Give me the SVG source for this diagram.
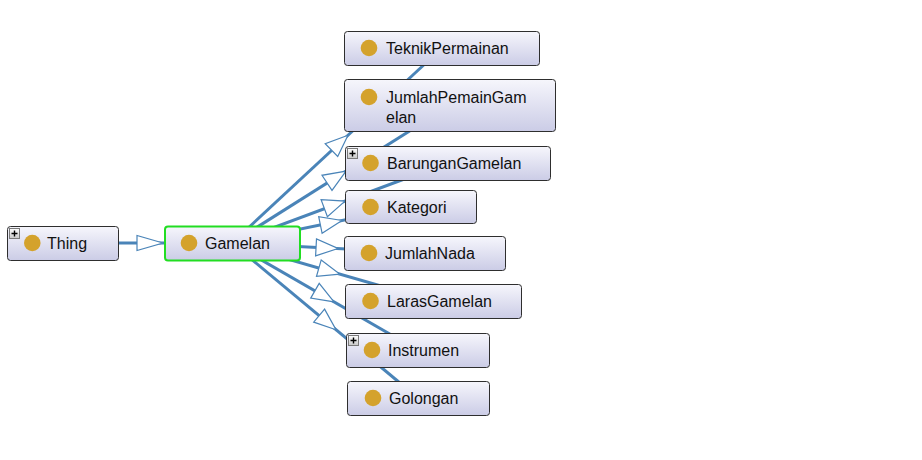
<svg xmlns="http://www.w3.org/2000/svg" width="922" height="460" viewBox="0 0 922 460">
<defs>
<linearGradient id="ng" x1="0" y1="0" x2="0" y2="1">
<stop offset="0" stop-color="#f6f6fc"/>
<stop offset="1" stop-color="#cbcce6"/>
</linearGradient>
<linearGradient id="pg" x1="0" y1="0" x2="0" y2="1">
<stop offset="0" stop-color="#ffffff"/>
<stop offset="1" stop-color="#c8c8c8"/>
</linearGradient>
<g id="plus">
<rect x="0.5" y="0.5" width="10" height="10" fill="url(#pg)" stroke="#7a7a7a" stroke-width="1"/>
<path d="M2.5 5.5h6M5.5 2.5v6" stroke="#000" stroke-width="1.4"/>
</g>
</defs>
<style>
.n{fill:url(#ng);stroke:#2e2e2e;stroke-width:1}
.sel{fill:url(#ng);stroke:#22dd22;stroke-width:2}
.c{fill:#d4a22c}
.t{font-family:"Liberation Sans",Arial,sans-serif;font-size:16px;fill:#111}
.e{stroke:#4a84b8;stroke-width:3;fill:none}
.a{fill:#fff;stroke:#4a84b8;stroke-width:1.2;stroke-linejoin:miter}
</style>
<rect width="922" height="460" fill="#fff"/>
<g id="connectors">
<line class="e" x1="62" y1="243" x2="232" y2="243"/>
<line class="e" x1="232" y1="243" x2="442" y2="48"/>
<line class="e" x1="232" y1="243" x2="450" y2="105.5"/>
<line class="e" x1="232" y1="243" x2="447.5" y2="163"/>
<line class="e" x1="232" y1="243" x2="410.5" y2="206.5"/>
<line class="e" x1="232" y1="243" x2="424.5" y2="253"/>
<line class="e" x1="232" y1="243" x2="433" y2="301"/>
<line class="e" x1="232" y1="243" x2="417.5" y2="350"/>
<line class="e" x1="232" y1="243" x2="418" y2="398"/>
<polygon class="a" points="163,243 137,235.5 137,250.5"/>
<polygon class="a" points="348,135.3 337.7,156.4 325.2,143.7"/>
<polygon class="a" points="346,171.1 332.0,190.4 322.0,175.3"/>
<polygon class="a" points="345,201.1 327.4,216.6 321.1,199.6"/>
<polygon class="a" points="342,220.5 322.1,233.3 318.7,216.7"/>
<polygon class="a" points="338,248.5 315.6,255.9 316.5,238.9"/>
<polygon class="a" points="340,274.2 316.5,276.3 321.2,259.9"/>
<polygon class="a" points="334,301.8 310.7,298.1 319.2,283.4"/>
<polygon class="a" points="336,329.7 313.7,322.1 324.6,309.1"/>
</g>
<g id="Thing">
<rect class="n" x="7.5" y="226.5" width="111" height="34" rx="3"/>
<use href="#plus" x="9" y="228"/>
<circle class="c" cx="32.3" cy="243" r="8.3"/>
<text class="t" x="47" y="248.5">Thing</text>
</g>
<g id="Gamelan">
<rect class="sel" x="165" y="226.5" width="135" height="34" rx="3"/>
<circle class="c" cx="189" cy="243" r="8.3"/>
<text class="t" x="205" y="248.5">Gamelan</text>
</g>
<g id="TeknikPermainan">
<rect class="n" x="344.5" y="31.5" width="195" height="34" rx="3"/>
<circle class="c" cx="369" cy="48" r="8.3"/>
<text class="t" x="386" y="53.5">TeknikPermainan</text>
</g>
<g id="JumlahPemainGamelan">
<rect class="n" x="344.5" y="79.5" width="211" height="52" rx="3"/>
<circle class="c" cx="369" cy="97" r="8.3"/>
<text class="t" x="386" y="102.5">JumlahPemainGam</text>
<text class="t" x="386" y="122.5">elan</text>
</g>
<g id="BarunganGamelan">
<rect class="n" x="345.5" y="146.5" width="205" height="34" rx="3"/>
<use href="#plus" x="347" y="148"/>
<circle class="c" cx="370.5" cy="163" r="8.3"/>
<text class="t" x="387" y="168.5">BarunganGamelan</text>
</g>
<g id="Kategori">
<rect class="n" x="345.5" y="190.5" width="131" height="33" rx="3"/>
<circle class="c" cx="370.5" cy="207" r="8.3"/>
<text class="t" x="387" y="212.5">Kategori</text>
</g>
<g id="JumlahNada">
<rect class="n" x="344.5" y="236.5" width="161" height="34" rx="3"/>
<circle class="c" cx="369" cy="253" r="8.3"/>
<text class="t" x="385" y="258.5">JumlahNada</text>
</g>
<g id="LarasGamelan">
<rect class="n" x="345.5" y="284.5" width="176" height="34" rx="3"/>
<circle class="c" cx="370.5" cy="301" r="8.3"/>
<text class="t" x="387" y="306.5">LarasGamelan</text>
</g>
<g id="Instrumen">
<rect class="n" x="346.5" y="333.5" width="143" height="34" rx="3"/>
<use href="#plus" x="348" y="335"/>
<circle class="c" cx="372" cy="350" r="8.3"/>
<text class="t" x="388" y="355.5">Instrumen</text>
</g>
<g id="Golongan">
<rect class="n" x="347.5" y="381.5" width="142" height="34" rx="3"/>
<circle class="c" cx="373" cy="398" r="8.3"/>
<text class="t" x="389" y="403.5">Golongan</text>
</g>
</svg>
